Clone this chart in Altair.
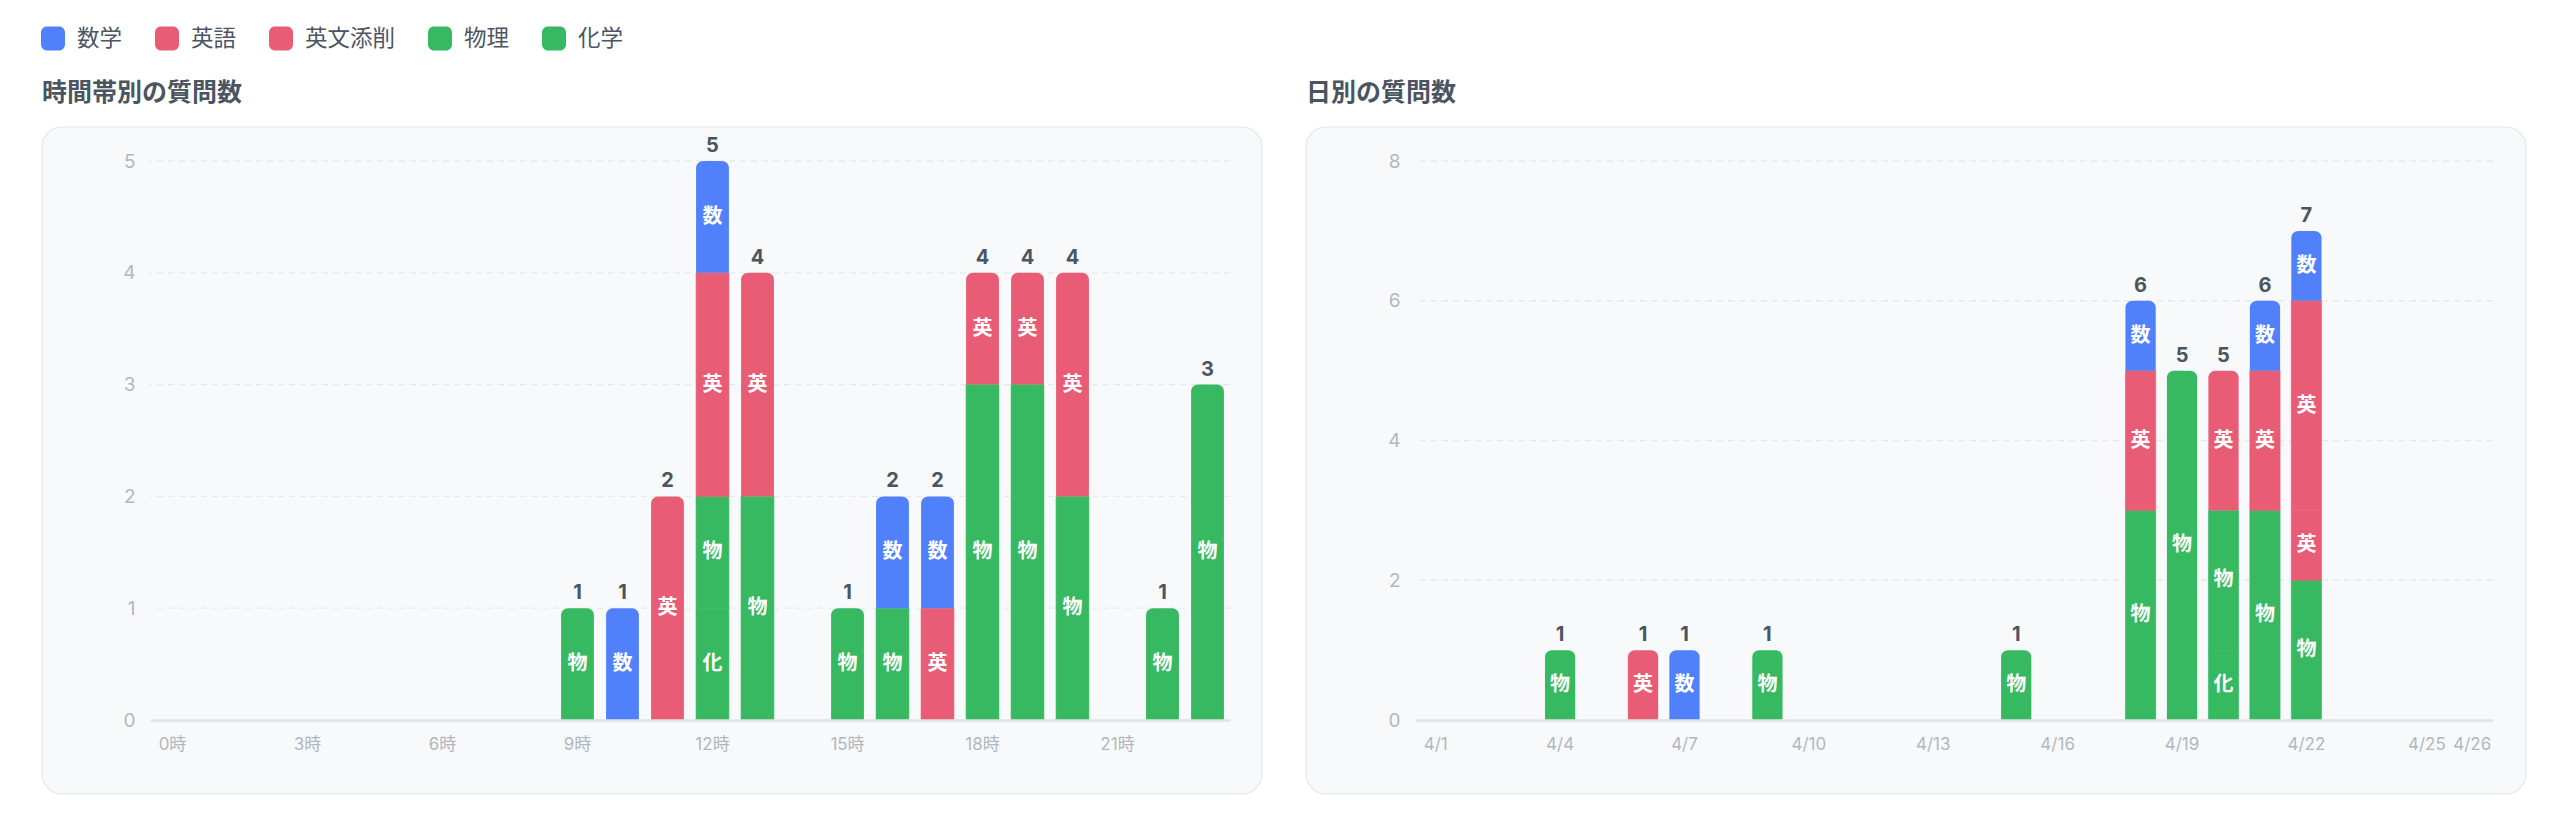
import altair as alt
import pandas as pd

FONT = "Inter, 'Noto Sans CJK JP', sans-serif"
FONT_JP = "'Noto Sans CJK JP', Inter, sans-serif"

# ---------------- data ----------------
SUBJECTS = ["数学", "英語", "英文添削", "物理", "化学"]
ABBR = {"数学": "数", "英語": "英", "英文添削": "英", "物理": "物", "化学": "化"}
COLORS = ["#5081FB", "#E85D75", "#E85D75", "#37B961", "#37B961"]
STACK_ORDER = ["化学", "物理", "英文添削", "英語", "数学"]

TITLE_LEFT = "時間帯別の質問数"
TITLE_RIGHT = "日別の質問数"

HOURS = list(range(24))
HOUR_TICKS = [0, 3, 6, 9, 12, 15, 18, 21]
hour_math    = [0, 0, 0, 0, 0, 0, 0, 0, 0, 0, 1, 0, 1, 0, 0, 0, 1, 1, 0, 0, 0, 0, 0, 0]
hour_english = [0, 0, 0, 0, 0, 0, 0, 0, 0, 0, 0, 2, 2, 2, 0, 0, 0, 1, 1, 1, 2, 0, 0, 0]
hour_essay   = [0, 0, 0, 0, 0, 0, 0, 0, 0, 0, 0, 0, 0, 0, 0, 0, 0, 0, 0, 0, 0, 0, 0, 0]
hour_physics = [0, 0, 0, 0, 0, 0, 0, 0, 0, 1, 0, 0, 1, 2, 0, 1, 1, 0, 3, 3, 2, 0, 1, 3]
hour_chem    = [0, 0, 0, 0, 0, 0, 0, 0, 0, 0, 0, 0, 1, 0, 0, 0, 0, 0, 0, 0, 0, 0, 0, 0]
HOUR_YTICKS = [0, 1, 2, 3, 4, 5]

DAYS = list(range(1, 27))  # 4/1 .. 4/26
DAY_TICKS = [1, 4, 7, 10, 13, 16, 19, 22, 25, 26]
#              1  2  3  4  5  6  7  8  9 10 11 12 13 14 15 16 17 18 19 20 21 22 23 24 25 26
day_math    = [0, 0, 0, 0, 0, 0, 1, 0, 0, 0, 0, 0, 0, 0, 0, 0, 0, 1, 0, 0, 1, 1, 0, 0, 0, 0]
day_english = [0, 0, 0, 0, 0, 1, 0, 0, 0, 0, 0, 0, 0, 0, 0, 0, 0, 2, 0, 2, 2, 3, 0, 0, 0, 0]
day_essay   = [0, 0, 0, 0, 0, 0, 0, 0, 0, 0, 0, 0, 0, 0, 0, 0, 0, 0, 0, 0, 0, 1, 0, 0, 0, 0]
day_physics = [0, 0, 0, 1, 0, 0, 0, 0, 1, 0, 0, 0, 0, 0, 1, 0, 0, 3, 5, 2, 3, 2, 0, 0, 0, 0]
day_chem    = [0, 0, 0, 0, 0, 0, 0, 0, 0, 0, 0, 0, 0, 0, 0, 0, 0, 0, 0, 1, 0, 0, 0, 0, 0, 0]
DAY_YTICKS = [0, 2, 4, 6, 8]


def build(xs, series):
    segs, totals = [], []
    for i, x in enumerate(xs):
        cum = 0
        cur = []
        for s in STACK_ORDER:
            v = series[s][i]
            if v > 0:
                cur.append({"x": x, "subject": s, "abbr": ABBR[s], "y0": cum,
                            "y1": cum + v, "mid": cum + v / 2, "top": False})
                cum += v
        if cur:
            cur[-1]["top"] = True
            segs.extend(cur)
            totals.append({"x": x, "total": cum})
    return pd.DataFrame(segs), pd.DataFrame(totals)


hour_df, hour_tot = build(HOURS, {"数学": hour_math, "英語": hour_english, "英文添削": hour_essay,
                                  "物理": hour_physics, "化学": hour_chem})
day_df, day_tot = build(DAYS, {"数学": day_math, "英語": day_english, "英文添削": day_essay,
                               "物理": day_physics, "化学": day_chem})

ROUND = ("M -0.5 -1 L 0.5 -1 A 0.5 0.5 0 0 1 1 -0.5 L 1 0.5 A 0.5 0.5 0 0 1 0.5 1 "
         "L -0.5 1 A 0.5 0.5 0 0 1 -1 0.5 L -1 -0.5 A 0.5 0.5 0 0 1 -0.5 -1 Z")

PLOT_TOP = 160.5
PLOT_LEFT = 149


def panel(df, tot, xs, ticks, label_expr, ymax, yticks, width, height, title, rect,
          show_legend, label_offset):
    x = alt.X("x:O",
              scale=alt.Scale(domain=xs, paddingInner=0.27, paddingOuter=0.135),
              axis=alt.Axis(values=ticks, labelExpr=label_expr, title=None, labelAngle=0,
                            ticks=False, labelPadding=16, domainColor="#dfe3e6", domainWidth=2.5,
                            labelFont=FONT, labelColor="#b0b8be", labelFontSize=17, zindex=1,
                            labelOffset=label_offset))
    yscale = alt.Scale(domain=[0, ymax], nice=False)
    yaxis = alt.Axis(values=yticks, title=None, grid=False, domain=False, ticks=False,
                     labelPadding=15, labelFontSize=19, labelFont=FONT, labelColor="#b0b8be",
                     zindex=1)
    color_scale = alt.Scale(domain=SUBJECTS, range=COLORS)
    legend = alt.Legend(orient="none", legendX=40 - PLOT_LEFT, legendY=26 - PLOT_TOP,
                        direction="horizontal", title=None,
                        symbolType=ROUND, symbolSize=576, symbolStrokeWidth=0,
                        labelFontSize=22.5, labelColor="#4b5563", labelFont=FONT_JP,
                        labelOffset=12, columnPadding=32) if show_legend else None

    one = alt.Data(values=[{"k": 1}])
    bg = alt.Chart(one).mark_rect(fill="#f8f9fb", stroke="#e9ecef", strokeWidth=1.5,
                                  cornerRadius=20).encode(
        x=alt.value(rect[0]), x2=alt.value(width + rect[1]),
        y=alt.value(rect[2]), y2=alt.value(height + rect[3]))
    ttl = alt.Chart(one).mark_text(align="left", baseline="middle", fontSize=25, fontWeight="bold",
                                   color="#4a5561", font=FONT_JP).encode(
        x=alt.value(rect[0]), y=alt.value(-68), text=alt.value(title))
    grid = alt.Chart(pd.DataFrame({"v": yticks[1:]})).mark_rule(
        color="#e6e9ec", strokeDash=[6, 5], strokeWidth=1.3).encode(
        y=alt.Y("v:Q", scale=yscale, axis=yaxis))

    base = alt.Chart(df)
    bars_mid = base.transform_filter("!datum.top").mark_bar(strokeWidth=0.6).encode(
        x=x, y=alt.Y("y0:Q", scale=yscale, axis=yaxis), y2="y1:Q",
        color=alt.Color("subject:N", scale=color_scale, legend=legend),
        stroke=alt.Stroke("subject:N", scale=color_scale, legend=None))
    bars_top = base.transform_filter("datum.top").mark_bar(
        cornerRadiusTopLeft=7, cornerRadiusTopRight=7).encode(
        x=x, y=alt.Y("y0:Q", scale=yscale, axis=yaxis), y2="y1:Q",
        color=alt.Color("subject:N", scale=color_scale, legend=None))
    seg_txt = base.mark_text(color="white", fontWeight="bold", fontSize=20, font=FONT_JP,
                             baseline="middle").encode(
        x=x, y=alt.Y("mid:Q", scale=yscale, axis=yaxis), text="abbr:N")
    tot_txt = alt.Chart(tot).mark_text(color="#4a5561", fontWeight="bold", fontSize=20, font=FONT,
                                       baseline="bottom", dy=-5).encode(
        x=x, y=alt.Y("total:Q", scale=yscale, axis=yaxis), text="total:Q")

    return alt.layer(bg, ttl, grid, bars_mid, bars_top, seg_txt, tot_txt).properties(
        width=width, height=height)


left = panel(hour_df, hour_tot, HOURS, HOUR_TICKS, "datum.value + '時'", 5, HOUR_YTICKS,
             1080, 559, TITLE_LEFT, (-108, 32, -34, 74), True, 0)
right = panel(day_df, day_tot, DAYS, DAY_TICKS, "'4/' + datum.value", 8, DAY_YTICKS,
              1078, 559, TITLE_RIGHT, (-109, 33, -34, 74), False,
              alt.condition("datum.value == 25", alt.value(-4), alt.value(0)))

chart = alt.hconcat(left, right, spacing=42).properties(
    padding={"left": 33, "top": 18, "right": 5, "bottom": 5}
).configure_view(stroke=None)

chart.save("out.html", embed_options={"renderer": "svg", "actions": False})
